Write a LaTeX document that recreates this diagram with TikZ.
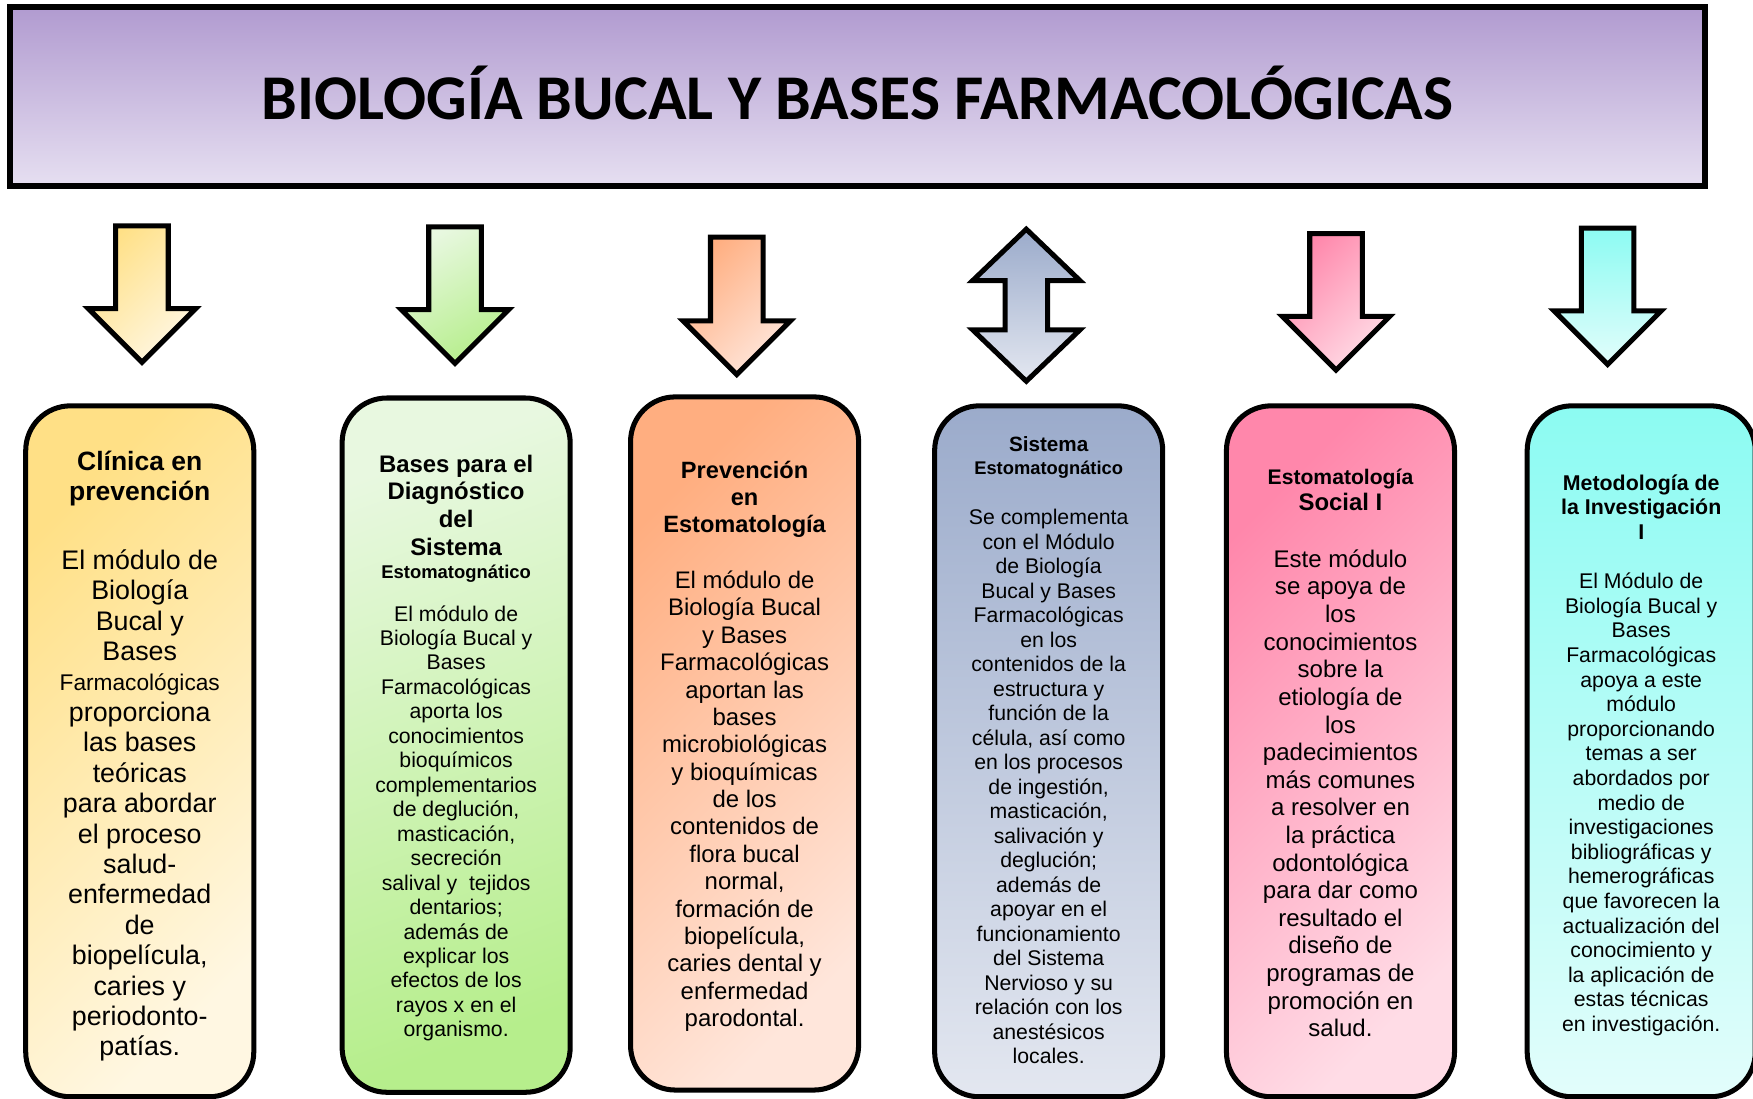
\documentclass[tikz,border=0pt]{standalone}
\usepackage{fontspec}
\setmainfont{Liberation Sans}
\newfontfamily\titlefont{Carlito}

% colour pairs: dark end / light end of each gradient
\definecolor{titA}{HTML}{B19BD0}\definecolor{titB}{HTML}{E6DFF1}
\definecolor{yelA}{HTML}{FFE086}\definecolor{yelB}{HTML}{FFF7E2}
\definecolor{grnA}{HTML}{E8F8E0}\definecolor{grnB}{HTML}{B6EE8C}
\definecolor{orgA}{HTML}{FFAE80}\definecolor{orgB}{HTML}{FFE6DB}
\definecolor{bluA}{HTML}{9BABCB}\definecolor{bluB}{HTML}{E3E7F0}
\definecolor{pnkA}{HTML}{FF87AB}\definecolor{pnkB}{HTML}{FFDCE6}
\definecolor{cynA}{HTML}{8CFBF2}\definecolor{cynB}{HTML}{E2FDFB}

\tikzset{
  modbox/.style={draw=black, line width=4.5pt, rounded corners=40pt,
    minimum width=204pt, inner sep=0pt},
  arrowline/.style={draw=black, line width=4.5pt, line join=miter},
  txt/.style={align=center, inner sep=0pt, anchor=north},
  one/.style={inner sep=0pt, anchor=base},
}

% single block arrow pointing down: centre x, top y, tip y, colours, shading angle
\newcommand{\downblock}[6]{%
  \shade[arrowline, top color=#4, bottom color=#5, shading angle=#6]
    (#1-23.5,#2) -- (#1+23.5,#2) -- (#1+23.5,#3-48) -- (#1+48,#3-48) -- (#1,#3)
    -- (#1-48,#3-48) -- (#1-23.5,#3-48) -- cycle;}

\newcommand{\fs}[2]{\fontsize{#1}{#2}\selectfont}

\begin{document}
\begin{tikzpicture}[x=1pt,y=-1pt]
\useasboundingbox (0,0) rectangle (1568,983);

% heading banner
\node[draw=black, line width=5pt, minimum width=1516pt, minimum height=160pt,
      inner sep=0pt, top color=titA, bottom color=titB] (title) at (767,86.5) {};
\node[one, font=\titlefont\bfseries\fs{57}{62}] (titletext) at (767,106.5)
  {BIOLOGÍA BUCAL Y BASES FARMACOLÓGICAS};

% block arrows
\downblock{127}{202}{324}{yelA}{yelB}{45}
\downblock{407}{203}{325}{grnA}{grnB}{30}
\downblock{659}{212}{335}{orgA}{orgB}{45}
\shade[arrowline, top color=bluA, bottom color=bluB]
  (918,205) -- (966,251) -- (937,251) -- (937,295) -- (966,295) -- (918,341)
  -- (870,295) -- (899,295) -- (899,251) -- (870,251) -- cycle;
\downblock{1195}{209}{331}{pnkA}{pnkB}{45}
\downblock{1438}{204}{326}{cynA}{cynB}{0}

% module boxes
\node[modbox, minimum height=618pt, top color=yelA, bottom color=yelB, shading angle=45] (b1) at (125,672) {};
\node[modbox, minimum height=621pt, top color=grnA, bottom color=grnB, shading angle=20] (b2) at (408,666.5) {};
\node[modbox, minimum height=620pt, top color=orgA, bottom color=orgB, shading angle=45] (b3) at (666,665) {};
\node[modbox, minimum height=618pt, top color=bluA, bottom color=bluB] (b4) at (938,672) {};
\node[modbox, minimum height=618pt, top color=pnkA, bottom color=pnkB, shading angle=45] (b5) at (1199,672) {};
\node[modbox, minimum height=618pt, top color=cynA, bottom color=cynB] (b6) at (1468,672) {};

% box 1
\node[txt, font=\bfseries\fs{23.7}{27}] (h1) at (125,402) {\strut Clínica en\\prevención};
\node[txt, font=\fs{24}{27.2}] (t1) at (125,490) {\strut El módulo de\\Biología\\Bucal y\\Bases\\
  {\fs{20.3}{27.2}Farmacológicas}\\proporciona\\las bases\\teóricas\\para abordar\\el proceso\\
  salud-\\enfermedad\\de\\biopelícula,\\caries y\\periodonto-\\patías.};

% box 2
\node[txt, font=\bfseries\fs{21.4}{25}] (h2) at (408,404.5) {\strut Bases para el\\Diagnóstico\\del\\Sistema};
\node[one, font=\bfseries\fs{16.5}{19}] (h2b) at (408,517.5) {Estomatognático};
\node[txt, font=\fs{19}{21.88}] (t2) at (408,540) {\strut El módulo de\\Biología Bucal y\\Bases\\
  Farmacológicas\\aporta los\\conocimientos\\bioquímicos\\complementarios\\de deglución,\\
  masticación,\\secreción\\salival y~ tejidos\\dentarios;\\además de\\explicar los\\
  efectos de los\\rayos x en el\\organismo.};

% box 3
\node[txt, font=\bfseries\fs{21.1}{24}] (h3) at (666,411) {\strut Prevención\\en\\Estomatología};
\node[txt, font=\fs{21.4}{24.5}] (t3) at (666,509) {\strut El módulo de\\Biología Bucal\\y Bases\\
  Farmacológicas\\aportan las\\bases\\microbiológicas\\y bioquímicas\\de los\\contenidos de\\
  flora bucal\\normal,\\formación de\\biopelícula,\\caries dental y\\enfermedad\\parodontal.};

% box 4
\node[one, font=\bfseries\fs{18.5}{21}] (h4) at (938,404) {Sistema};
\node[one, font=\bfseries\fs{16.4}{19}] (h4b) at (938,424.4) {Estomatognático};
\node[txt, font=\fs{19}{21.9}] (t4) at (938,454) {\strut Se complementa\\con el Módulo\\de Biología\\
  Bucal y Bases\\Farmacológicas\\en los\\contenidos de la\\estructura y\\función de la\\
  célula, así como\\en los procesos\\de ingestión,\\masticación,\\salivación y\\deglución;\\
  además de\\apoyar en el\\funcionamiento\\del Sistema\\Nervioso y su\\relación con los\\
  anestésicos\\locales.};

% box 5
\node[one, font=\bfseries\fs{18.9}{21}] (h5) at (1199,433.2) {Estomatología};
\node[one, font=\bfseries\fs{21.4}{24}] (h5b) at (1199,456.5) {Social I};
\node[txt, font=\fs{21.5}{24.7}] (t5) at (1199,490) {\strut Este módulo\\se apoya de\\los\\
  conocimientos\\sobre la\\etiología de\\los\\padecimientos\\más comunes\\a resolver en\\
  la práctica\\odontológica\\para dar como\\resultado el\\diseño de\\programas de\\
  promoción en\\salud.};

% box 6
\node[txt, font=\bfseries\fs{19.1}{22}] (h6) at (1468,423) {\strut Metodología de\\la Investigación\\I};
\node[txt, font=\fs{19}{22}] (t6) at (1468,511) {\strut El Módulo de\\Biología Bucal y\\Bases\\
  Farmacológicas\\apoya a este\\módulo\\proporcionando\\temas a ser\\abordados por\\medio de\\
  investigaciones\\bibliográficas y\\hemerográficas\\que favorecen la\\actualización del\\
  conocimiento y\\la aplicación de\\estas técnicas\\en investigación.};
\end{tikzpicture}
\end{document}
